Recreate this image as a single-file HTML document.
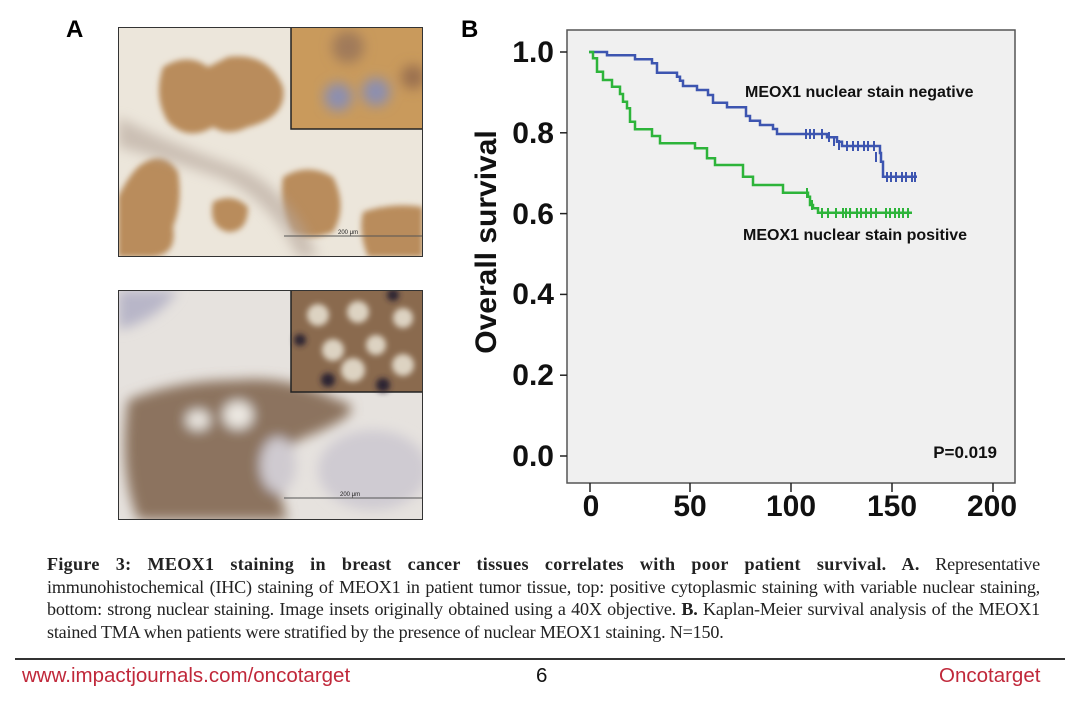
<!DOCTYPE html>
<html><head><meta charset="utf-8"><style>
body{margin:0;width:1080px;height:716px;background:#fff;position:relative;overflow:hidden;font-family:"Liberation Sans",sans-serif}
.cap{position:absolute;left:47px;top:553px;width:993px;font-family:"Liberation Serif",serif;font-size:18.1px;line-height:22.6px;color:#222;letter-spacing:-0.2px}
.cap div{text-align:justify;text-align-last:justify;white-space:nowrap;overflow:visible}
.cap div.l{text-align-last:left}
.cap div.f b{letter-spacing:0.3px}
.foot{position:absolute;top:664px;font-size:20.5px;color:#c0283a}
</style></head><body>
<svg width="1080" height="716" style="position:absolute;left:0;top:0">
<defs>
<filter id="bl"><feGaussianBlur stdDeviation="3"/></filter>
<filter id="bl2"><feGaussianBlur stdDeviation="6"/></filter>
</defs>
<text x="66" y="37" font-family="Liberation Sans" font-weight="bold" font-size="24">A</text>
<text x="461" y="37" font-family="Liberation Sans" font-weight="bold" font-size="24">B</text>
<svg x="118" y="27" width="305" height="230">
<rect width="305" height="230" fill="#ece6db"/>
<g filter="url(#bl)" fill="#b98c5c">
<path d="M45 40 Q70 25 90 40 L110 30 Q150 25 165 60 Q170 90 130 100 Q110 110 95 100 Q70 115 50 95 Q35 70 45 40Z"/>
<path d="M20 140 Q45 120 60 145 Q65 175 55 200 Q60 230 30 230 L0 230 L0 170 Q10 150 20 140Z"/>
<path d="M95 175 Q115 165 130 180 Q130 205 110 205 Q90 200 95 175Z"/>
<path d="M165 150 Q190 135 215 150 Q230 180 215 205 Q190 215 175 205 Q160 180 165 150Z"/>
<path d="M245 185 Q275 175 305 180 L305 230 L250 230 Q240 205 245 185Z"/>
</g>
<g filter="url(#bl2)" fill="#b5a59a" opacity="0.6">
<path d="M0 90 Q60 120 120 140 Q170 160 200 230 L180 230 Q150 170 100 150 Q40 130 0 120Z"/>
</g>
<line x1="166" y1="209" x2="305" y2="209" stroke="#555" stroke-width="1"/>
<text x="220" y="207" font-size="6" fill="#222">200 μm</text>
<rect x="173" y="0" width="132" height="102" fill="#c99a5c" stroke="#222" stroke-width="1.5"/>
<g filter="url(#bl2)">
<circle cx="220" cy="70" r="14" fill="#8c8fb0"/>
<circle cx="258" cy="65" r="14" fill="#8c8fb0"/>
<circle cx="230" cy="20" r="16" fill="#a07a5a"/>
<circle cx="295" cy="50" r="12" fill="#9a7050"/>
</g>
<rect width="305" height="230" fill="none" stroke="#333" stroke-width="2"/>
</svg>
<svg x="118" y="290" width="305" height="230">
<rect width="305" height="230" fill="#e6e2de"/>
<g filter="url(#bl2)">
<path d="M10 110 Q60 90 120 90 Q170 85 220 110 Q260 120 180 150 Q150 180 170 230 L20 230 Q0 180 10 110Z" fill="#8c735e"/>
<ellipse cx="255" cy="180" rx="55" ry="40" fill="#cfcbd2"/>
<ellipse cx="120" cy="125" rx="15" ry="14" fill="#ece8e2"/>
<ellipse cx="160" cy="175" rx="18" ry="28" fill="#cfcad0"/>
<ellipse cx="80" cy="130" rx="12" ry="10" fill="#ece8e2"/>
<path d="M0 0 L60 0 Q40 30 0 40Z" fill="#b8b6c8"/>
</g>
<line x1="166" y1="208" x2="305" y2="208" stroke="#555" stroke-width="1"/>
<text x="222" y="206" font-size="6" fill="#222">200 μm</text>
<rect x="173" y="0" width="132" height="102" fill="#8a6a4e" stroke="#222" stroke-width="1.5"/>
<g filter="url(#bl)" fill="#ddd3c2">
<circle cx="200" cy="25" r="11"/><circle cx="240" cy="22" r="11"/><circle cx="285" cy="28" r="10"/>
<circle cx="215" cy="60" r="11"/><circle cx="258" cy="55" r="10"/><circle cx="235" cy="80" r="12"/><circle cx="285" cy="75" r="11"/>
</g>
<g filter="url(#bl)" fill="#2a2230">
<circle cx="182" cy="50" r="6"/><circle cx="210" cy="90" r="7"/><circle cx="265" cy="95" r="7"/><circle cx="275" cy="5" r="6"/>
</g>
<rect width="305" height="230" fill="none" stroke="#333" stroke-width="2"/>
</svg>
<rect x="567" y="30" width="448" height="453" fill="#f0f0f0" stroke="#555" stroke-width="1.5"/>
<g stroke="#222" stroke-width="1.5">
<line x1="560" y1="52" x2="567" y2="52"/><line x1="560" y1="132.8" x2="567" y2="132.8"/><line x1="560" y1="213.6" x2="567" y2="213.6"/><line x1="560" y1="294.4" x2="567" y2="294.4"/><line x1="560" y1="375.2" x2="567" y2="375.2"/><line x1="560" y1="456" x2="567" y2="456"/>
<line x1="590" y1="483" x2="590" y2="492"/><line x1="690" y1="483" x2="690" y2="492"/><line x1="791" y1="483" x2="791" y2="492"/><line x1="892" y1="483" x2="892" y2="492"/><line x1="993" y1="483" x2="993" y2="492"/>
</g>
<g font-family="Liberation Sans" font-weight="bold" font-size="30" text-anchor="end" fill="#111">
<text x="554" y="62">1.0</text><text x="554" y="143">0.8</text><text x="554" y="224">0.6</text><text x="554" y="304">0.4</text><text x="554" y="385">0.2</text><text x="554" y="466">0.0</text>
</g>
<g font-family="Liberation Sans" font-weight="bold" font-size="30" text-anchor="middle" fill="#111">
<text x="591" y="516">0</text><text x="690" y="516">50</text><text x="791" y="516">100</text><text x="892" y="516">150</text><text x="992" y="516">200</text>
</g>
<text transform="translate(496,242) rotate(-90)" text-anchor="middle" font-family="Liberation Sans" font-weight="bold" font-size="30" fill="#111">Overall survival</text>
<g font-family="Liberation Sans" font-weight="bold" font-size="16" fill="#111">
<text x="745" y="97">MEOX1 nuclear stain negative</text>
<text x="743" y="240">MEOX1 nuclear stain positive</text>
<text x="997" y="458" text-anchor="end" font-size="17">P=0.019</text>
</g>
<polyline fill="none" stroke="#3d55b0" stroke-width="2.5" points="589,52 607,52 607,55.3 635,55.3 635,59.3 652,59.3 652,63.3 657,63.3 657,72.7 677,72.7 677,76.7 680,76.7 680,80.7 683,80.7 683,86 697,86 697,90 708,90 708,95 713,95 713,102.7 727,102.7 727,107.3 746,107.3 746,116 750,116 750,120.7 760,120.7 760,125 773,125 773,129 777,129 777,134 827,134 827,137.3 837,137.3 837,141.7 842,141.7 842,146 880,146 880,153 881,153 881,161.7 883,161.7 883,176.7 917,176.7"/>
<g stroke="#3d55b0" stroke-width="2">
<path d="M806 129v10M810 129v10M814 129v10M822 129v10M829 132v10M834 136v10M839 140v10M847 141v10M853 141v10M858 141v10M864 141v10M868 141v10M874 141v10M876 152v10M887 172v10M891 172v10M896 172v10M902 172v10M906 172v10M912 172v10M915 172v10"/>
</g>
<polyline fill="none" stroke="#2db43a" stroke-width="2.5" points="589,52 593,52 593,58.3 597,58.3 597,71.7 603,71.7 603,80 612,80 612,86.7 620,86.7 620,94 623,94 623,101.7 627,101.7 627,108.3 630,108.3 630,121.7 635,121.7 635,129.3 652,129.3 652,136 660,136 660,143.3 695,143.3 695,148.3 707,148.3 707,158.3 715,158.3 715,165 743,165 743,176.7 753,176.7 753,185 783,185 783,192.7 808,192.7 808,196.7 810,196.7 810,205 813,205 813,208.3 818,208.3 818,212.7 912,212.7"/>
<g stroke="#2db43a" stroke-width="2">
<path d="M807 188v10M812 200v10M822 208v10M828 208v10M836 208v10M843 208v10M846 208v10M850 208v10M857 208v10M861 208v10M866 208v10M871 208v10M876 208v10M886 208v10M890 208v10M895 208v10M899 208v10M903 208v10M908 208v10"/>
</g>
<line x1="15" y1="659" x2="1065" y2="659" stroke="#333" stroke-width="2"/>
</svg>
<div class="cap">
<div class="f"><b>Figure 3: MEOX1 staining in breast cancer tissues correlates with poor patient survival. A.</b> Representative</div>
<div>immunohistochemical (IHC) staining of MEOX1 in patient tumor tissue, top: positive cytoplasmic staining with variable nuclear staining,</div>
<div>bottom: strong nuclear staining. Image insets originally obtained using a 40X objective. <b>B.</b> Kaplan-Meier survival analysis of the MEOX1</div>
<div class="l">stained TMA when patients were stratified by the presence of nuclear MEOX1 staining. N=150.</div>
</div>
<div class="foot" style="left:22px">www.impactjournals.com/oncotarget</div>
<div class="foot" style="left:536px;color:#111">6</div>
<div class="foot" style="left:939px">Oncotarget</div>
</body></html>
